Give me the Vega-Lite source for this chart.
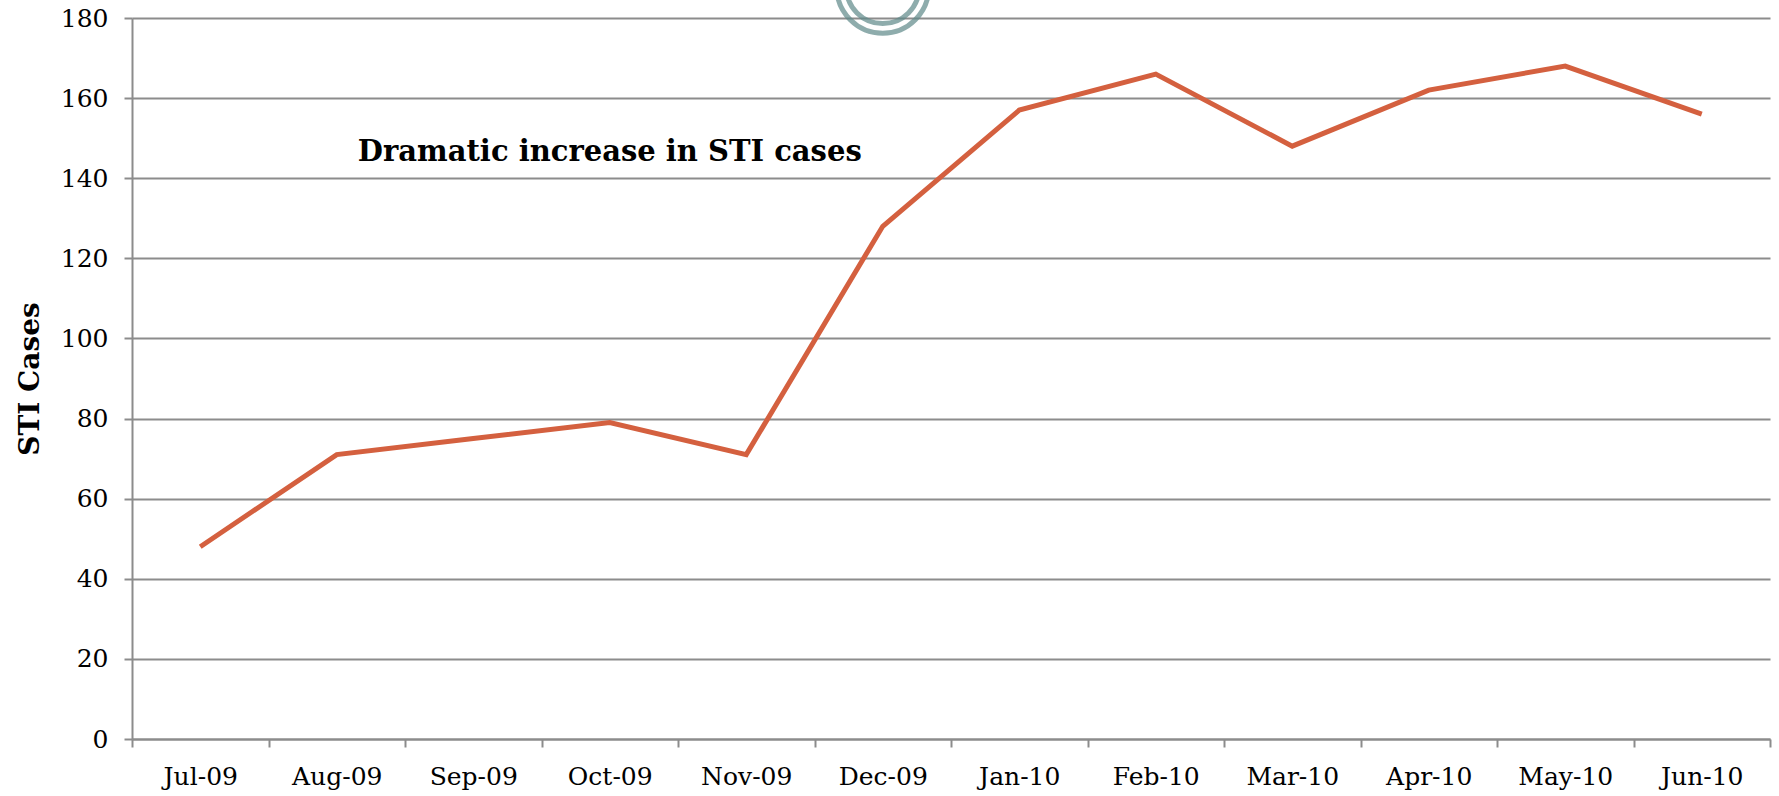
{
  "$schema": "https://vega.github.io/schema/vega-lite/v6.json",
  "width": 1638,
  "height": 721,
  "autosize": {"type": "none"},
  "padding": {"left": 132, "top": 18, "right": 9, "bottom": 57},
  "background": "white",
  "config": {
    "view": {"stroke": null},
    "font": "DejaVu Serif"
  },
  "datasets": {
    "cases": [
      {"month": "Jul-09", "cases": 48},
      {"month": "Aug-09", "cases": 71},
      {"month": "Sep-09", "cases": 75},
      {"month": "Oct-09", "cases": 79},
      {"month": "Nov-09", "cases": 71},
      {"month": "Dec-09", "cases": 128},
      {"month": "Jan-10", "cases": 157},
      {"month": "Feb-10", "cases": 166},
      {"month": "Mar-10", "cases": 148},
      {"month": "Apr-10", "cases": 162},
      {"month": "May-10", "cases": 168},
      {"month": "Jun-10", "cases": 156}
    ],
    "note": [
      {"month": "Oct-09", "cases": 146.5, "label": "Dramatic increase in STI cases"}
    ],
    "ring": [
      {"month": "Dec-09", "cases": 187.7}
    ]
  },
  "layer": [
    {
      "data": {"name": "cases"},
      "mark": {"type": "line", "color": "#d4603f", "strokeWidth": 5},
      "encoding": {
        "x": {
          "field": "month",
          "type": "ordinal",
          "sort": null,
          "scale": {"type": "band", "paddingInner": 0, "paddingOuter": 0},
          "axis": {
            "title": null,
            "labelAngle": 0,
            "labelFontSize": 25,
            "labelColor": "#000000",
            "labelPadding": 17,
            "tickBand": "extent",
            "tickSize": 8,
            "tickColor": "#8c8c8c",
            "tickWidth": 2,
            "domainColor": "#8c8c8c",
            "domainWidth": 2,
            "grid": false
          }
        },
        "y": {
          "field": "cases",
          "type": "quantitative",
          "scale": {"domain": [0, 180], "nice": false},
          "axis": {
            "title": "STI Cases",
            "titleFontSize": 28,
            "titleFontWeight": "bold",
            "titleColor": "#000000",
            "titlePadding": 16,
            "values": [0, 20, 40, 60, 80, 100, 120, 140, 160, 180],
            "labelFontSize": 25,
            "labelColor": "#000000",
            "labelPadding": 16,
            "tickSize": 8,
            "tickColor": "#8c8c8c",
            "tickWidth": 2,
            "domainColor": "#8c8c8c",
            "domainWidth": 2,
            "grid": true,
            "gridColor": "#8c8c8c",
            "gridWidth": 2
          }
        }
      }
    },
    {
      "data": {"name": "note"},
      "mark": {"type": "text", "fontSize": 29, "fontWeight": "bold", "color": "#000000", "align": "center", "baseline": "middle"},
      "encoding": {
        "x": {"field": "month", "type": "ordinal", "sort": null},
        "y": {"field": "cases", "type": "quantitative"},
        "text": {"field": "label"}
      }
    },
    {
      "data": {"name": "ring"},
      "mark": {"type": "point", "shape": "circle", "filled": false, "stroke": "#5f8a8a", "strokeWidth": 5, "size": 8464, "clip": false},
      "encoding": {
        "x": {"field": "month", "type": "ordinal", "sort": null},
        "y": {"field": "cases", "type": "quantitative"}
      }
    },
    {
      "data": {"name": "ring"},
      "mark": {"type": "point", "shape": "circle", "filled": false, "stroke": "#5f8a8a", "strokeWidth": 5, "size": 5300, "clip": false},
      "encoding": {
        "x": {"field": "month", "type": "ordinal", "sort": null},
        "y": {"field": "cases", "type": "quantitative"}
      }
    }
  ]
}
